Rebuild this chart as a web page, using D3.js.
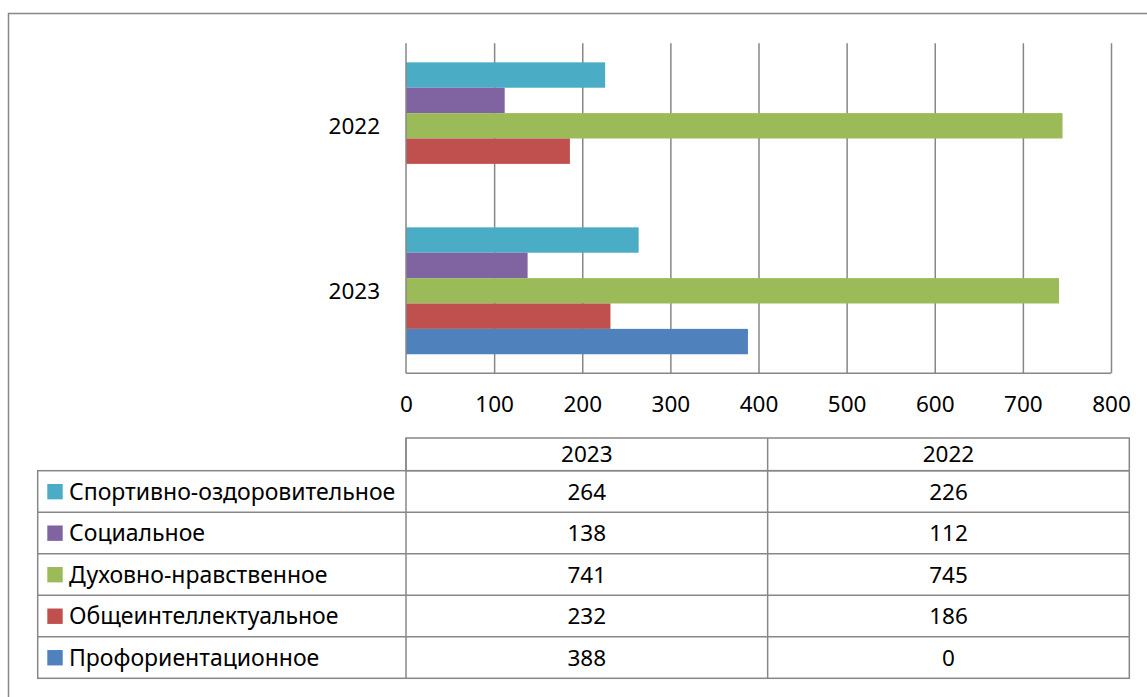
<!DOCTYPE html>
<html>
<head>
<meta charset="utf-8">
<script src="https://cdn.jsdelivr.net/npm/d3@7"></script>
<style>
  body { margin: 0; background: #fff; }
  svg text { font-family: "Noto Sans", "Open Sans", sans-serif; fill: #000; }
</style>
</head>
<body>
<div id="chart"></div>
<script>
// data
const years = ['2022', '2023'];            // top to bottom on the chart
const tableYears = ['2023', '2022'];       // column order in the data table
const seriesNames = [
  'Спортивно-оздоровительное',
  'Социальное',
  'Духовно-нравственное',
  'Общеинтеллектуальное',
  'Профориентационное'
];
const seriesColors = ['#4BACC6', '#8064A2', '#9BBB59', '#C0504D', '#4F81BD'];
const values2023 = [264, 138, 741, 232, 388];
const values2022 = [226, 112, 745, 186, 0];
const xTicks = [0, 100, 200, 300, 400, 500, 600, 700, 800];

const valuesByYear = { '2023': values2023, '2022': values2022 };

const W = 1147, H = 697;
const gridColor = '#878787';
const fontSize = 22.5;
const nameSize = 23;

const svg = d3.select('#chart').append('svg')
  .attr('width', W)
  .attr('height', H);

// outer chart border (runs off the right and bottom of the picture)
svg.append('rect')
  .attr('x', 8.5).attr('y', 13.5)
  .attr('width', W + 20).attr('height', H + 20)
  .attr('fill', 'none')
  .attr('stroke', gridColor)
  .attr('stroke-width', 1.5);

// scales
const plot = { left: 406, right: 1111, top: 43.3, bottom: 373.3 };

const x = d3.scaleLinear()
  .domain([0, 800])
  .range([plot.left, plot.right]);

const y0 = d3.scaleBand()
  .domain(years)
  .range([plot.top, plot.bottom]);

const y1 = d3.scaleBand()
  .domain(seriesNames)
  .range([0, y0.bandwidth()])
  .paddingInner(0)
  .paddingOuter(0.75);

// grid lines
svg.append('g')
  .attr('transform', `translate(0,${plot.bottom})`)
  .call(d3.axisBottom(x).tickValues(xTicks.slice(1)).tickSize(-(plot.bottom - plot.top)).tickFormat(() => ''))
  .call(g => g.select('.domain').remove())
  .selectAll('line')
  .attr('stroke', gridColor)
  .attr('stroke-width', 1.5);

// bars
const rows = [];
years.forEach(yr => {
  seriesNames.forEach((s, i) => rows.push({ year: yr, name: s, value: valuesByYear[yr][i], color: seriesColors[i] }));
});

svg.append('g')
  .selectAll('rect')
  .data(rows)
  .enter().append('rect')
  .attr('x', x(0))
  .attr('y', d => y0(d.year) + y1(d.name))
  .attr('width', d => x(d.value) - x(0))
  .attr('height', y1.bandwidth())
  .attr('fill', d => d.color);

// axes lines
svg.append('line')
  .attr('x1', plot.left).attr('x2', plot.left)
  .attr('y1', plot.top).attr('y2', plot.bottom)
  .attr('stroke', gridColor).attr('stroke-width', 1.5);
svg.append('line')
  .attr('x1', plot.left).attr('x2', plot.right)
  .attr('y1', plot.bottom).attr('y2', plot.bottom)
  .attr('stroke', gridColor).attr('stroke-width', 1.5);

// x tick labels
svg.append('g')
  .attr('transform', `translate(0,${plot.bottom})`)
  .call(d3.axisBottom(x).tickValues(xTicks).tickSize(0).tickPadding(0).tickFormat(d3.format('d')))
  .call(g => g.select('.domain').remove())
  .selectAll('text')
  .attr('y', 38.5)
  .attr('dy', 0)
  .style('font-size', fontSize + 'px')
  .style('font-family', '"Noto Sans", sans-serif')
  .attr('fill', '#000');

// y category labels
svg.append('g')
  .selectAll('text')
  .data(years)
  .enter().append('text')
  .attr('x', 380)
  .attr('y', d => y0(d) + y0.bandwidth() / 2)
  .attr('dy', '0.36em')
  .attr('text-anchor', 'end')
  .style('font-size', fontSize + 'px')
  .text(d => d);

// data table
const tbl = { left: 37.7, keyRight: 406, right: 1129.3, top: 438, headerBottom: 470.7, bottom: 678.3 };
const colX = d3.scaleBand()
  .domain(tableYears)
  .range([tbl.keyRight, tbl.right]);
const rowY = d3.scaleBand()
  .domain(seriesNames)
  .range([tbl.headerBottom, tbl.bottom]);

const tg = svg.append('g')
  .attr('stroke', gridColor)
  .attr('stroke-width', 1.5)
  .attr('fill', 'none');

// header row outline
tg.append('rect')
  .attr('x', tbl.keyRight).attr('y', tbl.top)
  .attr('width', tbl.right - tbl.keyRight).attr('height', tbl.headerBottom - tbl.top);
// body outline
tg.append('rect')
  .attr('x', tbl.left).attr('y', tbl.headerBottom)
  .attr('width', tbl.right - tbl.left).attr('height', tbl.bottom - tbl.headerBottom);
// row separators
tg.selectAll('line.row')
  .data(seriesNames.slice(1))
  .enter().append('line')
  .attr('x1', tbl.left).attr('x2', tbl.right)
  .attr('y1', d => rowY(d)).attr('y2', d => rowY(d));
// column separators
tg.selectAll('line.col')
  .data(tableYears)
  .enter().append('line')
  .attr('x1', d => colX(d)).attr('x2', d => colX(d))
  .attr('y1', tbl.top).attr('y2', tbl.bottom);

// header texts
svg.append('g')
  .selectAll('text')
  .data(tableYears)
  .enter().append('text')
  .attr('x', d => colX(d) + colX.bandwidth() / 2)
  .attr('y', (tbl.top + tbl.headerBottom) / 2)
  .attr('dy', '0.36em')
  .attr('text-anchor', 'middle')
  .style('font-size', fontSize + 'px')
  .text(d => d);

// legend keys + names
const rowG = svg.append('g')
  .selectAll('g')
  .data(seriesNames)
  .enter().append('g')
  .attr('transform', d => `translate(0,${rowY(d) + rowY.bandwidth() / 2})`);

rowG.append('rect')
  .attr('x', 47.3)
  .attr('y', -7.5)
  .attr('width', 15.4)
  .attr('height', 15.4)
  .attr('fill', (d, i) => seriesColors[i]);

rowG.append('text')
  .attr('x', 69)
  .attr('dy', '0.36em')
  .style('font-size', nameSize + 'px')
  .text(d => d);

// values
tableYears.forEach(yr => {
  rowG.append('text')
    .attr('x', colX(yr) + colX.bandwidth() / 2)
    .attr('dy', '0.36em')
    .attr('text-anchor', 'middle')
    .style('font-size', fontSize + 'px')
    .text((d, i) => valuesByYear[yr][i]);
});
</script>
</body>
</html>
